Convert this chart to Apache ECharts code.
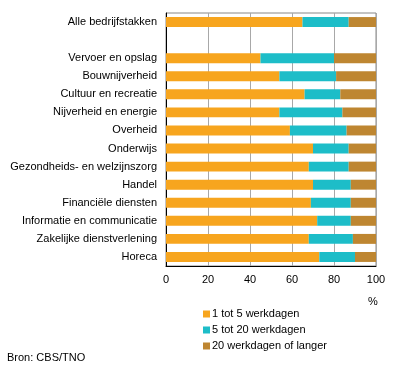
<!DOCTYPE html>
<html><head><meta charset="utf-8">
<script src="https://cdn.jsdelivr.net/npm/echarts@6/dist/echarts.min.js"></script>
<style>html,body{margin:0;padding:0;background:#fff}#c{width:396px;height:367px}</style>
</head><body><div id="c"></div>
<script>
const categories = ['Alle bedrijfstakken','','Vervoer en opslag','Bouwnijverheid','Cultuur en recreatie','Nijverheid en energie','Overheid','Onderwijs','Gezondheids- en welzijnszorg','Handel','Financiële diensten','Informatie en communicatie','Zakelijke dienstverlening','Horeca'];
const short = [65, null, 45, 54, 66, 54, 59, 70, 68, 70, 69, 72, 68, 73];
const medium = [22, null, 35, 27, 17, 30, 27, 17, 19, 18, 19, 16, 21, 17];
const long = [13, null, 20, 19, 17, 16, 14, 13, 13, 12, 12, 12, 11, 10];
const seriesNames = ['1 tot 5 werkdagen','5 tot 20 werkdagen','20 werkdagen of langer'];
const colors = ['#F7A51E','#1DBDC8','#BE8631'];
const xTicks = [0,20,40,60,80,100];
const font = 'Arial, "Liberation Sans", sans-serif';

const chart = echarts.init(document.getElementById('c'));
const mk = (name, data, c) => ({name, type:'bar', stack:'t', data, barCategoryGap:'45%', itemStyle:{color:c}, animation:false});
chart.setOption({
  animation:false,
  textStyle:{fontFamily:font, color:'#000'},
  grid:{left:166, right:20, top:13, bottom:101, show:true, borderColor:'#888', borderWidth:1},
  xAxis:{type:'value', min:xTicks[0], max:xTicks[xTicks.length-1], interval:20,
    axisLine:{show:true, lineStyle:{color:'#000', width:1}}, axisTick:{show:false},
    axisLabel:{fontSize:11, color:'#000', margin:8, fontFamily:font},
    splitLine:{show:true, lineStyle:{color:'#A8A8A8', width:1}}},
  yAxis:{type:'category', data:categories, inverse:true,
    axisLine:{show:true, lineStyle:{color:'#000', width:1}}, axisTick:{show:false},
    axisLabel:{fontSize:11, color:'#000', margin:9, fontFamily:font}},
  legend:{orient:'vertical', left:203, top:308, padding:0, itemWidth:7, itemHeight:7, itemGap:4,
    icon:'rect', textStyle:{fontSize:11, color:'#000', fontFamily:font, lineHeight:12, padding:[0,0,0,-3]},
    data:seriesNames},
  graphic:[
    {type:'text', left:368, top:296, style:{text:'%', font:'11px '+font, fill:'#000'}},
    {type:'text', left:7, top:352, style:{text:'Bron: CBS/TNO', font:'11px '+font, fill:'#000'}}
  ],
  series:[mk(seriesNames[0], short, colors[0]), mk(seriesNames[1], medium, colors[1]), mk(seriesNames[2], long, colors[2])]
});
</script></body></html>
